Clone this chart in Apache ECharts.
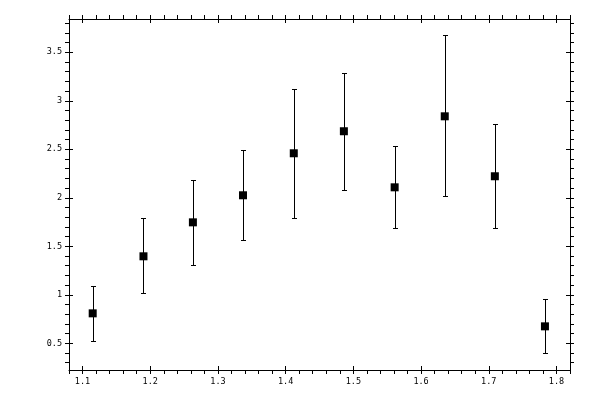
<!DOCTYPE html>
<html>
<head>
<meta charset="utf-8">
<script src="https://cdn.jsdelivr.net/npm/echarts@6/dist/echarts.min.js"></script>
<style>
html,body{margin:0;padding:0;background:#fff;}
#chart{width:600px;height:400px;}
</style>
</head>
<body>
<div id="chart"></div>
<script>
// ---- data ----
const xValues = [1.115, 1.190, 1.263, 1.337, 1.412, 1.486, 1.561, 1.635, 1.709, 1.783];
const yValues = [0.809, 1.397, 1.747, 2.026, 2.459, 2.686, 2.108, 2.840, 2.222, 0.675];
const yLower  = [0.520, 1.015, 1.304, 1.562, 1.789, 2.077, 1.686, 2.015, 1.686, 0.397];
const yUpper  = [1.088, 1.789, 2.180, 2.490, 3.119, 3.283, 2.531, 3.675, 2.758, 0.954];

// ---- axis ticks ----
const xMajorTicks = [1.1, 1.2, 1.3, 1.4, 1.5, 1.6, 1.7, 1.8];
const xMinorTicks = [1.08, 1.10, 1.12, 1.14, 1.16, 1.18, 1.20, 1.22, 1.24, 1.26, 1.28, 1.30,
  1.32, 1.34, 1.36, 1.38, 1.40, 1.42, 1.44, 1.46, 1.48, 1.50, 1.52, 1.54, 1.56, 1.58,
  1.60, 1.62, 1.64, 1.66, 1.68, 1.70, 1.72, 1.74, 1.76, 1.78, 1.80, 1.82];
const yMajorTicks = [0.5, 1, 1.5, 2, 2.5, 3, 3.5];
const yMinorTicks = [0.3, 0.4, 0.5, 0.6, 0.7, 0.8, 0.9, 1.0, 1.1, 1.2, 1.3, 1.4, 1.5, 1.6,
  1.7, 1.8, 1.9, 2.0, 2.1, 2.2, 2.3, 2.4, 2.5, 2.6, 2.7, 2.8, 2.9, 3.0, 3.1, 3.2, 3.3,
  3.4, 3.5, 3.6, 3.7, 3.8];

const xRange = [1.08, 1.82];
const yRange = [0.225, 3.843];

const fontStyle = { fontFamily: 'DejaVu Sans Mono', fontSize: 8.5, color: '#000' };

function makeAxis(position, range, ticks, inside, withLabels, showLine) {
  return {
    type: 'value',
    position: position,
    min: range[0],
    max: range[1],
    axisLine: { show: showLine, onZero: false, lineStyle: { color: '#000', width: 1 } },
    axisTick: { show: true, inside: inside, length: 4, customValues: ticks,
                lineStyle: { color: '#000', width: 1 } },
    axisLabel: withLabels
      ? Object.assign({ show: true, customValues: ticks, margin: 7,
                        showMinLabel: true, showMaxLabel: true }, fontStyle)
      : { show: false },
    splitLine: { show: false },
    minorTick: { show: false }
  };
}

const chart = echarts.init(document.getElementById('chart'), null, { renderer: 'canvas' });

const errData = xValues.map((x, i) => [x, yLower[i], yUpper[i]]);
const ptData = xValues.map((x, i) => [x, yValues[i]]);

chart.setOption({
  backgroundColor: '#fff',
  animation: false,
  grid: { left: 69, right: 30, top: 19, bottom: 30, containLabel: false },
  xAxis: [
    makeAxis('bottom', xRange, xMajorTicks, false, true, true),
    makeAxis('bottom', xRange, xMajorTicks, true, false, false),
    makeAxis('bottom', xRange, xMinorTicks, false, false, false),
    makeAxis('top', xRange, xMajorTicks, false, false, true),
    makeAxis('top', xRange, xMajorTicks, true, false, false),
    makeAxis('top', xRange, xMinorTicks, false, false, false)
  ],
  yAxis: [
    makeAxis('left', yRange, yMajorTicks, false, true, true),
    makeAxis('left', yRange, yMajorTicks, true, false, false),
    makeAxis('left', yRange, yMinorTicks, false, false, false),
    makeAxis('right', yRange, yMajorTicks, false, false, true),
    makeAxis('right', yRange, yMajorTicks, true, false, false),
    makeAxis('right', yRange, yMinorTicks, false, false, false)
  ],
  series: [
    {
      type: 'custom',
      xAxisIndex: 0,
      yAxisIndex: 0,
      data: errData,
      encode: { x: 0, y: [1, 2] },
      z: 2,
      renderItem: function (params, api) {
        const x = api.value(0);
        const pLo = api.coord([x, api.value(1)]);
        const pHi = api.coord([x, api.value(2)]);
        const cx = Math.round(pLo[0]) + 0.5;
        const yLo = Math.round(pLo[1]) + 0.5;
        const yHi = Math.round(pHi[1]) + 0.5;
        const hw = 2.5;
        const st = { stroke: '#000', lineWidth: 1 };
        return {
          type: 'group',
          children: [
            { type: 'line', shape: { x1: cx, y1: yLo, x2: cx, y2: yHi }, style: st },
            { type: 'line', shape: { x1: cx - hw, y1: yHi, x2: cx + hw, y2: yHi }, style: st },
            { type: 'line', shape: { x1: cx - hw, y1: yLo, x2: cx + hw, y2: yLo }, style: st }
          ]
        };
      }
    },
    {
      type: 'scatter',
      xAxisIndex: 0,
      yAxisIndex: 0,
      data: ptData,
      symbol: 'rect',
      symbolSize: 8,
      itemStyle: { color: '#000', opacity: 1 },
      emphasis: { disabled: true },
      z: 3
    }
  ]
});
</script>
</body>
</html>
